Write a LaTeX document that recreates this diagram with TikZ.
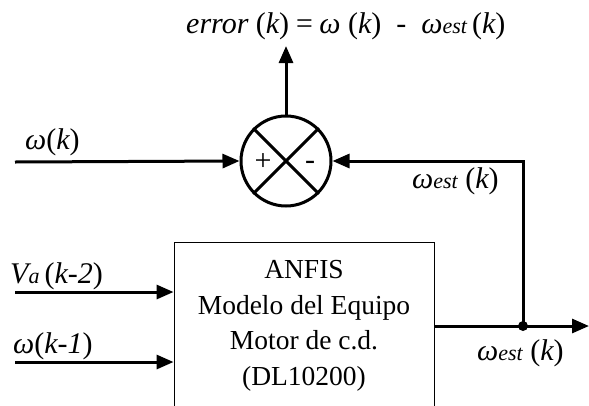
\documentclass[tikz,border=0pt]{standalone}
\usepackage{fontspec}
\setmainfont{Liberation Serif}[ItalicFont=Liberation Serif Italic]
\usetikzlibrary{arrows.meta,positioning}
\newcommand{\omest}{ω{\fontsize{22}{24}\selectfont est}}
\newcommand{\ki}[1]{{\upshape(}#1{\upshape)}}

\begin{document}
\begin{tikzpicture}[x=1pt,y=-1pt,
        sig/.style={line width=3pt,-{Triangle[length=17pt,width=14pt]}},
        wire/.style={line width=3pt},
        lbl/.style={font=\fontsize{30}{34}\selectfont\itshape,inner sep=0pt,anchor=base west}]
        \clip (0,0) rectangle (589,405);

        % sumador
        \node[circle,draw,line width=3pt,minimum size=90pt,inner sep=0pt] (sum) at (286,161) {};
        \draw[wire] (sum.north west) -- (sum.south east);
        \draw[wire] (sum.north east) -- (sum.south west);
        \node[font=\fontsize{30}{32}\selectfont,inner sep=0pt] (plus) at (263,162) {+};
        \node[font=\fontsize{30}{32}\selectfont,inner sep=0pt] (minus) at (310,165) {-};

        % bloque ANFIS
        \node[draw,line width=0.9pt,minimum width=260pt,minimum height=168pt,align=center,
            font=\fontsize{27.5}{35.5}\selectfont] (anfis) at (304,326)
            {ANFIS\\Modelo del Equipo\\Motor de c.d.\\(DL10200)};

        % entradas
        \coordinate (win) at (15,162);
        \coordinate (va) at (15,292);
        \coordinate (wprev) at (15,362);
        \draw[sig] (win) -- (sum.west);
        \draw[sig] (va) -- (va -| anfis.west);
        \draw[sig] (wprev) -- (wprev -| anfis.west);

        % salida y realimentacion
        \coordinate (errtip) at (286,46);
        \coordinate (junc) at (523,326);
        \coordinate (out) at (589,326);
        \draw[sig] (sum.north) -- (errtip);
        \draw[wire] (anfis.east) -- (junc);
        \draw[sig] (junc) -- (out);
        \draw[sig] (junc) |- (sum.east);
        \fill (junc) circle (5pt);

        % etiquetas
        \node[lbl] (lerr) at (186,33) {error \ki{k}\,=\,ω \ki{k} \ {\upshape -} \ \omest\,\ki{k}};
        \node[lbl] (lwk) at (25,149) {ω\ki{k}};
        \node[lbl] (lva) at (10,283) {V{\fontsize{22}{24}\selectfont a}\,\ki{k-2}};
        \node[lbl] (lwk1) at (13,353) {ω\ki{k-1}};
        \node[lbl] (lwfb) at (412,188) {\omest\ \ki{k}};
        \node[lbl] (lwout) at (477,360) {\omest\ \ki{k}};
\end{tikzpicture}
\end{document}
